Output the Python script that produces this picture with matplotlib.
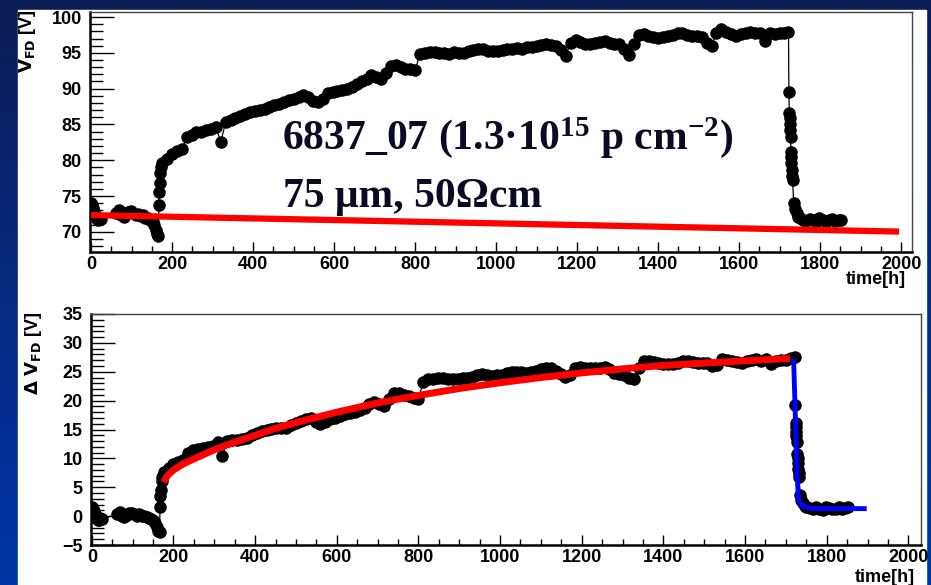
# V_FD annealing plot: top = V_FD vs time with linear baseline,
# bottom = delta V_FD with the two fit curves
import numpy as np
import matplotlib.pyplot as plt
from matplotlib.colors import LinearSegmentedColormap
from matplotlib.patches import Rectangle
from matplotlib.ticker import MultipleLocator

plt.rcParams['mathtext.fontset'] = 'custom'
plt.rcParams['mathtext.rm'] = 'Liberation Serif:bold'
plt.rcParams['mathtext.it'] = 'Liberation Serif:bold'
plt.rcParams['mathtext.bf'] = 'Liberation Serif:bold'

# measured points (time in h)
t_hours = [0, 2, 5, 8, 11, 14, 17, 20, 24,
           62, 68, 74, 80, 86, 92, 98, 104, 110, 116, 122, 128, 134, 140, 146, 152, 155, 160, 163, 166,
           167, 168, 169, 171, 173,
           176, 188, 200, 212, 224, 236, 248, 260, 272, 284, 296, 308, 320, 332, 344, 356, 368, 380,
           392, 404, 416, 428, 440, 452, 464, 476, 488, 500, 512, 524, 536, 548, 560, 572, 584, 596,
           608, 620, 632, 644, 656, 668, 680, 692, 704, 716, 728, 740, 752, 764, 776, 788, 800, 812,
           824, 836, 848, 860, 872, 884, 896, 908, 920, 932, 944, 956, 968, 980, 992, 1004, 1016, 1028,
           1040, 1052, 1064, 1076, 1088, 1100, 1112, 1124, 1136, 1148, 1160, 1172, 1184, 1196, 1208,
           1220, 1232, 1244, 1256, 1268, 1280, 1292, 1304, 1316, 1328, 1340, 1352, 1364, 1376, 1388,
           1400, 1412, 1424, 1436, 1448, 1460, 1472, 1484, 1496, 1508, 1520, 1532, 1544, 1556, 1568,
           1580, 1592, 1604, 1616, 1628, 1640, 1652, 1664, 1676, 1688, 1700, 1712, 1722,
           1723, 1724, 1725, 1725.5, 1726, 1727, 1728, 1728.5, 1729, 1730, 1731, 1732, 1735, 1738,
           1742, 1746, 1750, 1758, 1766, 1774, 1782, 1790, 1798, 1806, 1814, 1822, 1830, 1838, 1846,
           1852]

v_fd = [74.0, 73.7, 73.3, 72.8, 72.2, 71.8, 71.6, 72.0, 71.8,
        72.6, 73.0, 72.4, 72.1, 72.5, 72.8, 72.9, 72.6, 72.3, 72.5, 72.2, 72.3, 72.0, 71.9, 71.7, 71.4,
        71.0, 70.3, 69.7, 69.5,
        73.7, 75.6, 76.8, 78.2, 79.0,
        79.6, 80.2, 80.9, 81.3, 81.6, 83.2, 83.6, 83.9, 84.0, 84.2, 84.4, 84.6, 82.6, 85.3, 85.6, 85.9,
        86.2, 86.4, 86.7, 86.9, 87.0, 87.2, 87.5, 87.7, 87.9, 88.1, 88.4, 88.6, 88.8, 89.1, 88.9, 88.3,
        88.1, 88.6, 89.4, 89.6, 89.7, 89.8, 90.0, 90.3, 90.7, 91.0, 91.4, 91.9, 91.6, 91.3, 92.2, 93.2,
        93.3, 93.0, 92.8, 92.7, 92.6, 94.8, 95.0, 95.1, 95.1, 95.0, 95.0, 94.9, 95.1, 95.0, 95.0, 95.2,
        95.4, 95.6, 95.5, 95.3, 95.2, 95.2, 95.4, 95.5, 95.6, 95.7, 95.6, 95.8, 95.8, 95.9, 96.1, 96.3,
        96.1, 95.9, 95.4, 94.6, 96.4, 96.8, 96.5, 96.3, 96.3, 96.4, 96.5, 96.6, 96.4, 96.3, 96.2, 95.6,
        94.7, 96.3, 97.5, 97.6, 97.4, 97.2, 97.1, 97.2, 97.4, 97.5, 97.8, 97.7, 97.5, 97.4, 97.3, 97.2,
        96.4, 96.0, 97.8, 98.3, 97.9, 97.6, 97.4, 97.6, 97.8, 97.9, 97.7, 97.8, 96.6, 97.7, 97.6, 97.7,
        97.8, 97.9,
        89.6, 86.6, 85.9, 85.0, 84.2, 83.3, 81.2, 80.4, 79.6, 78.6, 77.8, 77.2, 74.0, 73.2,
        72.6, 72.1, 71.9, 71.7, 71.5, 71.8, 71.6, 71.4, 71.9, 71.7, 71.5, 71.6, 71.8, 71.5, 71.6,
        71.7]

dv_fd = [1.6, 1.3, 0.9, 0.4, -0.2, -0.6, -0.7, -0.3, -0.5,
         0.3, 0.7, 0.1, -0.2, 0.2, 0.5, 0.6, 0.3, 0.0, 0.3, 0.0, 0.1, -0.2, -0.3, -0.5, -0.8,
         -1.2, -1.9, -2.5, -2.7,
         1.5, 3.4, 4.6, 6.0, 6.8,
         7.6, 8.4, 9.0, 9.3, 9.7, 11.0, 11.4, 11.6, 11.8, 11.9, 12.1, 12.8, 10.4, 13.0, 13.1, 13.2,
         13.4, 13.6, 14.0, 14.4, 14.7, 14.9, 15.1, 15.2, 15.2, 15.3, 15.7, 16.1, 16.4, 16.9, 17.0, 16.3,
         15.9, 16.3, 16.8, 17.0, 17.3, 17.6, 17.9, 18.1, 18.4, 18.8, 19.4, 19.8, 19.5, 19.1, 20.3, 21.4,
         21.3, 21.0, 20.8, 20.5, 20.3, 23.3, 23.7, 23.8, 24.0, 23.9, 23.8, 23.7, 23.8, 23.9, 23.9, 24.1,
         24.4, 24.6, 24.5, 24.3, 24.4, 24.5, 24.7, 24.9, 25.0, 24.9, 24.8, 25.0, 25.1, 25.4, 25.7, 25.6,
         25.2, 24.6, 24.1, 24.4, 25.6, 25.8, 25.7, 25.6, 25.7, 25.7, 25.8, 25.4, 24.8, 24.6, 24.4, 23.9,
         23.7, 25.6, 26.9, 26.9, 26.7, 26.6, 26.4, 26.3, 26.4, 26.6, 26.9, 26.8, 26.7, 26.6, 26.6, 26.5,
         26.0, 26.1, 27.2, 27.1, 26.8, 26.7, 26.6, 26.8, 27.0, 27.2, 26.9, 27.2, 26.4, 26.9, 27.0, 27.1,
         27.3, 27.6,
         19.2, 16.2, 15.5, 14.6, 13.8, 12.9, 10.8, 10.0, 9.2, 8.2, 7.4, 6.8, 3.6, 2.8,
         2.2, 1.7, 1.6, 1.4, 1.2, 1.5, 1.3, 1.1, 1.6, 1.4, 1.2, 1.3, 1.6, 1.3, 1.4,
         1.5]

# linear baseline in the top panel
base_t = [0, 1995]
base_v = [72.35, 70.05]

# rising fit (red) in the bottom panel
rise_t = [176, 185, 200, 225, 250, 300, 350, 400, 450, 500, 550, 600, 650, 700, 800, 900,
          1000, 1100, 1200, 1300, 1400, 1500, 1600, 1710]
rise_v = [5.9, 7.0, 8.0, 9.1, 9.9, 11.5, 12.8, 14.0, 15.2, 16.2, 17.1, 18.0, 18.8, 19.6, 20.9,
          22.1, 23.1, 24.0, 24.8, 25.5, 26.1, 26.5, 26.9, 27.3]

# decay fit (blue) after the drop
decay_t = [1719, 1723, 1727, 1731, 1739, 1747, 1763, 1800, 1898]
decay_v = [27.2, 17.7, 7.9, 2.7, 1.9, 1.6, 1.3, 1.3, 1.3]

W, H = 931, 585
fig = plt.figure(figsize=(W / 100, H / 100), dpi=100)

# slide background: blue frame with white panel
bg = fig.add_axes([0, 0, 1, 1])
cmap = LinearSegmentedColormap.from_list('slide', ['#0036a8', '#0b1d55'])
bg.imshow(np.linspace(0, 1, 256).reshape(-1, 1), aspect='auto', cmap=cmap,
          extent=[0, 1, 0, 1], origin='lower')
bg.add_patch(Rectangle((18 / W, 0), (926 - 18) / W, 575 / H, color='white'))
bg.set_xlim(0, 1)
bg.set_ylim(0, 1)
bg.axis('off')

tick_font = dict(family='Liberation Sans', weight='bold', size=13)


def style_axes(ax, ymajor):
    ax.xaxis.set_major_locator(MultipleLocator(200))
    ax.xaxis.set_minor_locator(MultipleLocator(50))
    ax.yaxis.set_major_locator(MultipleLocator(ymajor))
    ax.yaxis.set_minor_locator(MultipleLocator(1))
    ax.tick_params(axis='x', which='major', direction='in', length=7, width=1, pad=3)
    ax.tick_params(axis='x', which='minor', direction='in', length=4, width=1)
    ax.tick_params(axis='y', which='major', direction='in', length=17, width=1, pad=6)
    ax.tick_params(axis='y', which='minor', direction='in', length=9, width=1)
    ax.tick_params(top=False, right=False, which='both')
    for lab in ax.get_xticklabels() + ax.get_yticklabels():
        lab.set_fontproperties(tick_font)
    for s in ['left', 'bottom']:
        ax.spines[s].set_linewidth(1.8)
    for s in ['top', 'right']:
        ax.spines[s].set_linewidth(1.0)
        ax.spines[s].set_color('#444444')


# top panel
ax1 = fig.add_axes([90 / W, 1 - 252 / H, (912 - 90) / W, (252 - 12) / H])
ax1.plot(t_hours, v_fd, color='black', lw=0.9, marker='o', ms=8, mec='black', mfc='black', zorder=2)
ax1.plot(base_t, base_v, color='#ff0000', lw=4.5, solid_capstyle='butt', zorder=3)
ax1.set_xlim(-3, 2027)
ax1.set_ylim(67.2, 100.7)
ax1.set_xticks(range(0, 2001, 200))
ax1.set_yticks(range(70, 101, 5))
style_axes(ax1, 5)
ax1.text((906 - 90) / (912 - 90), -19 / 240, 'time[h]', transform=ax1.transAxes,
         ha='right', va='top', fontproperties=tick_font)

fig.text(28 / W, 1 - 9 / H, r'$\mathbf{V}_{\mathbf{FD}}$ [V]', rotation=90, ha='center', va='top',
         fontproperties=tick_font, math_fontfamily='dejavusans')

txt_font = dict(family='Liberation Serif', weight='bold', size=30)
ax1.text(282 / W, 1 - 149 / H, '6837_07 (1.3·10$^{15}$ p cm$^{-2}$)', transform=fig.transFigure,
         ha='left', va='baseline', color='#0a0a24', **txt_font)
ax1.text(283 / W, 1 - 207 / H, '75 μm, 50Ωcm', transform=fig.transFigure,
         ha='left', va='baseline', color='#0a0a24', **txt_font)

# bottom panel
ax2 = fig.add_axes([91 / W, 1 - 545 / H, (921 - 91) / W, (545 - 314) / H])
ax2.plot(t_hours, dv_fd, color='black', lw=0.9, marker='o', ms=8, mec='black', mfc='black', zorder=2)
ax2.plot(rise_t, rise_v, color='#ff0000', lw=5, solid_capstyle='butt', zorder=3)
ax2.plot(decay_t, decay_v, color='#0000ff', lw=3.5, solid_capstyle='butt', zorder=3)
ax2.set_xlim(-2, 2031)
ax2.set_ylim(-5, 35)
ax2.set_xticks(range(0, 2001, 200))
ax2.set_yticks(range(-5, 36, 5))
style_axes(ax2, 5)
ax2.text((915 - 91) / (921 - 91), -24 / 231, 'time[h]', transform=ax2.transAxes,
         ha='right', va='top', fontproperties=tick_font)

fig.text(33 / W, 1 - 312 / H, r'$\mathbf{\Delta\ V}_{\mathbf{FD}}$ [V]', rotation=90, ha='center',
         va='top', fontproperties=tick_font, math_fontfamily='dejavusans')

fig.savefig('out.png', dpi=100)
